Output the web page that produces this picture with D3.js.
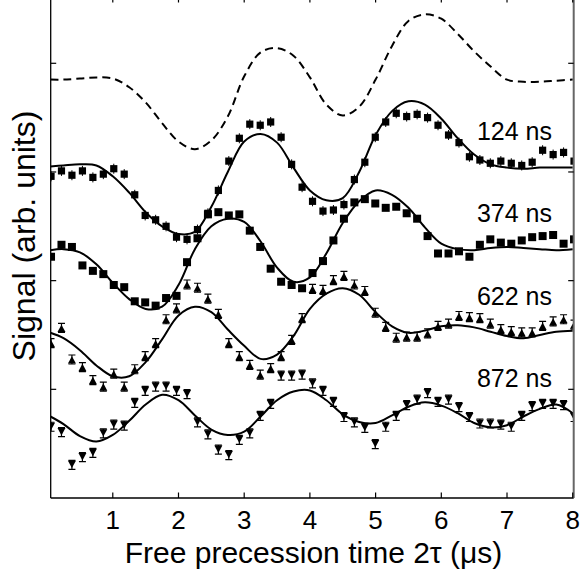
<!DOCTYPE html>
<html><head><meta charset="utf-8">
<script src="https://cdn.jsdelivr.net/npm/d3@7"></script>
<style>
body{margin:0;background:#fff}
svg{display:block}
text{font-family:"Liberation Sans",Arial,Helvetica,sans-serif;fill:#000}
</style>
</head><body>
<svg id="chart" width="580" height="572"></svg>
<script>
// ---- data ----
const timeX = [0.060,0.219,0.378,0.538,0.697,0.856,1.015,1.174,1.334,1.493,1.652,1.811,1.970,2.130,2.289,2.448,2.607,2.766,2.926,3.085,3.244,3.403,3.562,3.722,3.881,4.040,4.199,4.358,4.518,4.677,4.836,4.995,5.154,5.314,5.473,5.632,5.791,5.950,6.110,6.269,6.428,6.587,6.746,6.906,7.065,7.224,7.383,7.542,7.702,7.861,8.020];
const sig124 = [2.96,3.01,2.97,3.01,2.95,2.98,3.03,2.98,2.79,2.60,2.56,2.50,2.40,2.38,2.47,2.62,2.83,3.10,3.31,3.44,3.43,3.46,3.32,3.07,2.86,2.73,2.64,2.65,2.70,2.93,3.09,3.32,3.46,3.54,3.51,3.53,3.50,3.43,3.34,3.27,3.14,3.11,3.08,3.10,3.08,3.06,3.09,3.20,3.16,3.18,3.10];
const sig374 = [2.22,2.33,2.31,2.14,2.09,2.06,1.96,1.94,1.81,1.80,1.77,1.84,1.86,2.17,2.39,2.61,2.63,2.60,2.61,2.46,2.31,2.11,1.99,1.96,1.93,2.07,2.18,2.37,2.57,2.72,2.75,2.71,2.67,2.68,2.62,2.57,2.41,2.25,2.25,2.27,2.22,2.33,2.38,2.35,2.34,2.37,2.40,2.41,2.42,2.34,2.38];
const sig622 = [1.42,1.56,1.27,1.20,1.08,1.02,1.14,1.02,1.18,1.30,1.42,1.64,1.74,1.96,1.93,1.83,1.69,1.42,1.30,1.22,1.13,1.19,1.30,1.45,1.65,1.92,1.91,2.00,2.04,1.96,1.90,1.70,1.57,1.47,1.48,1.48,1.51,1.58,1.60,1.67,1.66,1.65,1.60,1.55,1.53,1.52,1.52,1.58,1.62,1.64,1.59];
const sig872 = [0.66,0.61,0.31,0.38,0.42,0.60,0.68,0.67,0.88,0.99,1.03,1.03,0.99,0.96,0.70,0.59,0.45,0.40,0.54,0.60,0.76,0.87,1.13,1.13,1.14,1.06,0.99,0.89,0.75,0.70,0.65,0.50,0.66,0.76,0.86,0.91,0.97,0.89,0.91,0.84,0.75,0.69,0.69,0.68,0.66,0.76,0.85,0.87,0.87,0.86,0.75];

const fitX = [0.05,0.25,0.5,0.75,1,1.25,1.5,1.75,2,2.25,2.5,2.75,3,3.25,3.5,3.75,4,4.25,4.5,4.75,5,5.25,5.5,5.75,6,6.25,6.5,6.75,7,7.25,7.5,7.75,8];
const fitDashed = [3.85,3.85,3.86,3.87,3.86,3.78,3.64,3.45,3.28,3.21,3.29,3.51,3.88,4.10,4.14,4.07,3.87,3.62,3.52,3.60,3.85,4.16,4.39,4.45,4.41,4.27,4.11,3.97,3.85,3.83,3.83,3.84,3.85];
const fit124 = [3.05,3.06,3.07,3.06,2.96,2.81,2.63,2.50,2.43,2.45,2.68,3.00,3.28,3.35,3.27,3.04,2.83,2.74,2.76,3.00,3.34,3.56,3.65,3.62,3.49,3.31,3.16,3.07,3.04,3.03,3.04,3.04,3.04];
const fit374 = [2.28,2.29,2.26,2.15,1.98,1.83,1.74,1.76,1.96,2.29,2.50,2.57,2.54,2.36,2.12,1.99,2.03,2.25,2.53,2.73,2.83,2.79,2.67,2.49,2.34,2.29,2.28,2.30,2.31,2.30,2.29,2.28,2.29];
const fit622 = [1.52,1.47,1.36,1.22,1.12,1.12,1.25,1.46,1.68,1.76,1.71,1.55,1.40,1.28,1.32,1.49,1.74,1.88,1.93,1.87,1.71,1.58,1.52,1.54,1.58,1.59,1.57,1.53,1.49,1.47,1.50,1.53,1.54];
const fit872 = [0.75,0.68,0.57,0.52,0.58,0.71,0.86,0.95,0.90,0.76,0.63,0.58,0.61,0.75,0.90,0.98,0.99,0.90,0.77,0.70,0.69,0.76,0.84,0.88,0.85,0.78,0.69,0.65,0.67,0.75,0.82,0.86,0.78];

const xTickValues = [1,2,3,4,5,6,7,8];
const yTickValues = [1,2,3,4];
const seriesLabels = ["124 ns","374 ns","622 ns","872 ns"];
const xTitle = "Free precession time 2\u03C4 (\u03BCs)";
const yTitle = "Signal (arb. units)";

// ---- layout ----
const L = 50.7, R = 573.7, T = -3, B = 498;
const x = d3.scaleLinear().domain([0.055, 8.015]).range([L, R]);
const y = d3.scaleLinear().domain([0, 4.610]).range([B, T]);
const labelAnchors = [3.294, 2.537, 1.776, 1.019];

const svg = d3.select("#chart");
svg.append("defs").append("clipPath").attr("id","plotclip")
  .append("rect").attr("x",L).attr("y",T).attr("width",R-L).attr("height",B-T);

const plot = svg.append("g").attr("clip-path","url(#plotclip)");

const line = d3.line().x((d,i)=>x(fitX[i])).y(d=>y(d)).curve(d3.curveCatmullRom.alpha(0.5));

plot.append("path").attr("d", line(fitDashed)).attr("fill","none")
  .attr("stroke","#000").attr("stroke-width",2).attr("stroke-dasharray","8,5");
[fit124, fit374, fit622, fit872].forEach(f => {
  plot.append("path").attr("d", line(f)).attr("fill","none")
    .attr("stroke","#000").attr("stroke-width",2);
});

// squares 124 (with small error bars)
const g124 = plot.append("g");
sig124.forEach((v,i)=>{
  const cx = x(timeX[i]), cy = y(v);
  g124.append("line").attr("x1",cx).attr("x2",cx).attr("y1",cy-5).attr("y2",cy+5).attr("stroke","#000").attr("stroke-width",1);
  g124.append("rect").attr("x",cx-3.6).attr("y",cy-3.6).attr("width",7.2).attr("height",7.2).attr("fill","#000");
});
// squares 374
const g374 = plot.append("g");
sig374.forEach((v,i)=>{
  const cx = x(timeX[i]), cy = y(v);
  g374.append("rect").attr("x",cx-4).attr("y",cy-4).attr("width",8).attr("height",8).attr("fill","#000");
});
// triangles up 622 with error bars
const g622 = plot.append("g");
sig622.forEach((v,i)=>{
  const cx = x(timeX[i]), cy = y(v);
  g622.append("path").attr("d",`M${cx},${cy-5}V${cy+4}M${cx-3.5},${cy-5}H${cx+3.5}M${cx-3.5},${cy+4}H${cx+3.5}`)
    .attr("stroke","#000").attr("stroke-width",1.2).attr("fill","none");
  g622.append("path").attr("d",`M${cx},${cy-3.8}L${cx+4},${cy+3.6}L${cx-4},${cy+3.6}Z`).attr("fill","#000");
});
// triangles down 872 with error bars
const g872 = plot.append("g");
sig872.forEach((v,i)=>{
  const cx = x(timeX[i]), cy = y(v);
  g872.append("path").attr("d",`M${cx},${cy-4}V${cy+5}M${cx-3.5},${cy+5}H${cx+3.5}M${cx-3.5},${cy-4}H${cx+3.5}`)
    .attr("stroke","#000").attr("stroke-width",1.2).attr("fill","none");
  g872.append("path").attr("d",`M${cx},${cy+3.8}L${cx+4},${cy-3.6}L${cx-4},${cy-3.6}Z`).attr("fill","#000");
});

// ---- frame and ticks ----
svg.append("line").attr("x1",L).attr("x2",L).attr("y1",T).attr("y2",B).attr("stroke","#000").attr("stroke-width",1.3);
svg.append("line").attr("x1",L).attr("x2",R).attr("y1",B).attr("y2",B).attr("stroke","#000").attr("stroke-width",1.3);
svg.append("line").attr("x1",R).attr("x2",R).attr("y1",T).attr("y2",B).attr("stroke","#666").attr("stroke-width",2);
svg.append("line").attr("x1",L).attr("x2",R).attr("y1",T).attr("y2",T).attr("stroke","#000").attr("stroke-width",1.3);

const ticks = svg.append("g").attr("stroke","#000").attr("stroke-width",1.2);
xTickValues.forEach(t=>{
  const px = x(t);
  ticks.append("line").attr("x1",px).attr("x2",px).attr("y1",B).attr("y2",B-5.5);
  ticks.append("line").attr("x1",px).attr("x2",px).attr("y1",T).attr("y2",T+5.5);
});
yTickValues.forEach(t=>{
  const py = y(t);
  ticks.append("line").attr("x1",L).attr("x2",L+5.5).attr("y1",py).attr("y2",py);
  ticks.append("line").attr("x1",R).attr("x2",R-5.5).attr("y1",py).attr("y2",py);
});

// tick labels
svg.append("g").selectAll("text").data(xTickValues).join("text")
  .attr("x",d=>x(d)).attr("y",529).attr("text-anchor","middle")
  .attr("font-size",26).text(d=>d);

// series labels
svg.append("g").selectAll("text").data(seriesLabels).join("text")
  .attr("x",552).attr("y",(d,i)=>y(labelAnchors[i])).attr("text-anchor","end")
  .attr("font-size",25).text(d=>d);

// axis titles
svg.append("text").attr("x",313.5).attr("y",563).attr("text-anchor","middle")
  .attr("font-size",30).text(xTitle);
svg.append("text").attr("transform","translate(35,236) rotate(-90)")
  .attr("text-anchor","middle").attr("font-size",32).text(yTitle);
</script>
</body></html>
